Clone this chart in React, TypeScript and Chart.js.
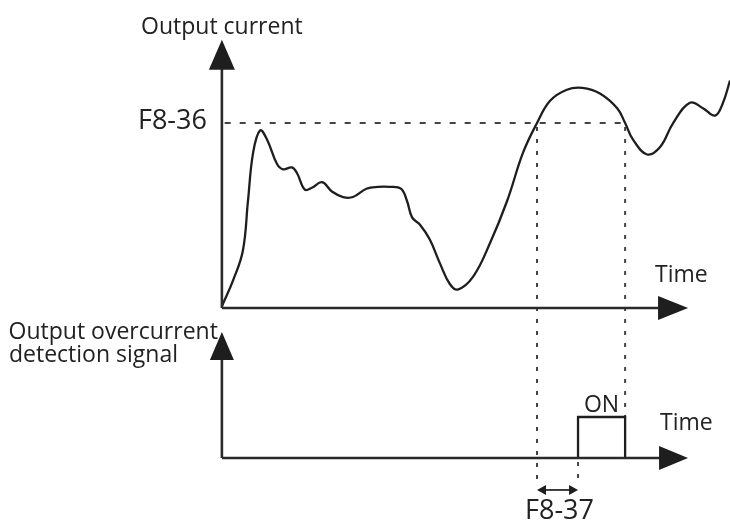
import React, { useEffect, useRef } from "react";
import { Chart, registerables } from "chart.js";

Chart.register(...registerables);

// Output current curve (time units, current units where F8-36 = 100)
const TIME = [0, 2.4, 4.5, 5.6, 6.7, 8.2, 9.7, 11.8, 13.1, 15.0, 16.1, 17.8, 19.3, 21.5, 23.6, 26.0, 28.1, 31.0, 33.5, 36.0, 38.4, 39.7, 40.8, 42.5, 44.6, 46.8, 48.9, 50.6, 53.9, 57.5, 61.2, 64.6, 67.6, 70.4, 74.0, 77.3, 81.1, 84.8, 86.5, 88.2, 91.2, 94.0, 96.8, 100.4, 103.2, 105.8, 107.5, 109.0];
const CURRENT = [1, 15, 31, 58, 84, 96, 91, 78, 75, 76, 73, 64, 65, 68, 63, 60, 60, 64.5, 65.5, 65.5, 64.5, 58, 49, 45, 37, 24, 13, 10, 17, 35, 58, 84, 100, 112, 118, 119, 116, 108, 100, 91, 83, 87, 100, 111, 108, 104, 111, 123];

// Threshold F8-36 and detection signal
const F8_36 = 100;
const THRESHOLD_TIME = [0.6, 86.5];
const SIGNAL_TIME = [76.4, 76.4, 86.5, 86.5];
const SIGNAL = [0, 1, 1, 0];

// Key instants
const T_CROSS_UP = 67.6;
const T_ON = 76.4;
const T_CROSS_DOWN = 86.5;
const T_AXIS_END = 100;
const CUR_AXIS_TOP = 145;
const SIG_AXIS_TOP = 3.07;
const SIG_GUIDE_END = -0.58;
const SIG_DELAY_ARROW = -0.78;

const LABELS = {
  current: "Output current",
  f836: "F8-36",
  f837: "F8-37",
  time: "Time",
  signal1: "Output overcurrent",
  signal2: "detection signal",
  on: "ON",
};

const FONT = '"Open Sans", "DejaVu Sans", sans-serif';

const diagramPlugin = {
  id: "diagram",
  beforeDatasetsDraw(chart: any) {
    const ctx = chart.ctx;
    const x = chart.scales.x;
    const y = chart.scales.y;
    const ys = chart.scales.ys;
    ctx.save();
    ctx.strokeStyle = "#444";
    ctx.lineWidth = 2;
    ctx.setLineDash([4, 8]);
    const v = (t: number, y1: number, y2: number) => {
      ctx.beginPath();
      ctx.moveTo(x.getPixelForValue(t), y1);
      ctx.lineTo(x.getPixelForValue(t), y2);
      ctx.stroke();
    };
    v(T_CROSS_UP, y.getPixelForValue(F8_36) + 4, ys.getPixelForValue(SIG_GUIDE_END));
    v(T_CROSS_DOWN, y.getPixelForValue(F8_36) + 4, ys.getPixelForValue(1));
    v(T_ON, ys.getPixelForValue(0) + 4, ys.getPixelForValue(SIG_GUIDE_END));
    ctx.restore();
  },
  afterDatasetsDraw(chart: any) {
    const ctx = chart.ctx;
    const x = chart.scales.x;
    const y = chart.scales.y;
    const ys = chart.scales.ys;
    ctx.save();
    ctx.strokeStyle = "#2a2a2a";
    ctx.fillStyle = "#1e1e1e";
    ctx.lineWidth = 2.6;
    ctx.setLineDash([]);

    const tri = (ax: number, ay: number, bx: number, by: number, cx: number, cy: number) => {
      ctx.beginPath();
      ctx.moveTo(ax, ay);
      ctx.lineTo(bx, by);
      ctx.lineTo(cx, cy);
      ctx.closePath();
      ctx.fill();
    };
    const line = (x1: number, y1: number, x2: number, y2: number) => {
      ctx.beginPath();
      ctx.moveTo(x1, y1);
      ctx.lineTo(x2, y2);
      ctx.stroke();
    };

    const x0 = x.getPixelForValue(0);
    const xEnd = x.getPixelForValue(T_AXIS_END);

    // upper axes
    const y0 = y.getPixelForValue(0);
    const yTop = y.getPixelForValue(CUR_AXIS_TOP);
    line(x0, y0, x0, yTop + 26);
    tri(x0, yTop, x0 - 13, yTop + 30, x0 + 13, yTop + 30);
    line(x0, y0, xEnd - 26, y0);
    tri(xEnd, y0, xEnd - 30, y0 - 12, xEnd - 30, y0 + 12);

    // lower axes
    const s0 = ys.getPixelForValue(0);
    const sTop = ys.getPixelForValue(SIG_AXIS_TOP);
    line(x0, s0, x0, sTop + 24);
    tri(x0, sTop, x0 - 12, sTop + 28, x0 + 12, sTop + 28);
    line(x0, s0, xEnd - 26, s0);
    tri(xEnd, s0, xEnd - 29, s0 - 12, xEnd - 29, s0 + 12);

    // delay double arrow
    const ya = ys.getPixelForValue(SIG_DELAY_ARROW);
    const xa1 = x.getPixelForValue(T_CROSS_UP);
    const xa2 = x.getPixelForValue(T_ON);
    ctx.lineWidth = 1.8;
    line(xa1 + 6, ya, xa2 - 6, ya);
    tri(xa1, ya, xa1 + 9, ya - 5, xa1 + 9, ya + 5);
    tri(xa2, ya, xa2 - 9, ya - 5, xa2 - 9, ya + 5);

    // texts
    ctx.fillStyle = "#222";
    ctx.font = `23px ${FONT}`;
    ctx.textBaseline = "alphabetic";
    ctx.textAlign = "center";
    ctx.fillText(LABELS.current, x0, yTop - 6);
    ctx.textAlign = "left";
    ctx.fillText(LABELS.time, xEnd - 33, y0 - 26);
    ctx.fillText(LABELS.time, xEnd - 28, s0 - 28);
    ctx.textAlign = "right";
    ctx.fillText(LABELS.signal1, x0 - 4, sTop + 7);
    ctx.textAlign = "left";
    ctx.fillText(LABELS.signal2, 9, sTop + 30);
    ctx.textAlign = "center";
    const xOn = (x.getPixelForValue(SIGNAL_TIME[1]) + x.getPixelForValue(SIGNAL_TIME[2])) / 2;
    ctx.fillText(LABELS.on, xOn, ys.getPixelForValue(1) - 5);

    ctx.font = `27px ${FONT}`;
    ctx.textAlign = "right";
    ctx.textBaseline = "middle";
    ctx.fillText(LABELS.f836, x0 - 15, y.getPixelForValue(F8_36) - 2);
    ctx.textAlign = "center";
    ctx.textBaseline = "alphabetic";
    ctx.fillText(LABELS.f837, (xa1 + xa2) / 2 + 2, ya + 29);
    ctx.restore();
  },
};

export default function App() {
  const ref = useRef<HTMLCanvasElement | null>(null);

  useEffect(() => {
    if (!ref.current) return;
    const chart = new Chart(ref.current, {
      type: "line",
      data: {
        datasets: [
          {
            data: TIME.map((t, i) => ({ x: t, y: CURRENT[i] })),
            borderColor: "#1e1e1e",
            borderWidth: 2.3,
            pointRadius: 0,
            tension: 0.4,
            yAxisID: "y",
          },
          {
            data: THRESHOLD_TIME.map((t) => ({ x: t, y: F8_36 })),
            borderColor: "#444",
            borderWidth: 2,
            borderDash: [6, 9],
            pointRadius: 0,
            yAxisID: "y",
          },
          {
            data: SIGNAL_TIME.map((t, i) => ({ x: t, y: SIGNAL[i] })),
            borderColor: "#1e1e1e",
            borderWidth: 2.3,
            pointRadius: 0,
            tension: 0,
            yAxisID: "ys",
          },
        ],
      },
      options: {
        animation: false,
        responsive: false,
        devicePixelRatio: 1,
        layout: { padding: 0 },
        plugins: { legend: { display: false }, tooltip: { enabled: false } },
        scales: {
          x: { type: "linear", min: -47.6, max: 109, display: false },
          y: { type: "linear", min: -115.1, max: 166.5, display: false },
          ys: { type: "linear", min: -1.537, max: 11.17, display: false },
        },
      },
      plugins: [diagramPlugin],
    } as any);
    return () => chart.destroy();
  }, []);

  return (
    <div style={{ position: "absolute", left: 0, top: 0, width: 730, height: 521, background: "#fff" }}>
      <canvas ref={ref} width={730} height={521} />
    </div>
  );
}
